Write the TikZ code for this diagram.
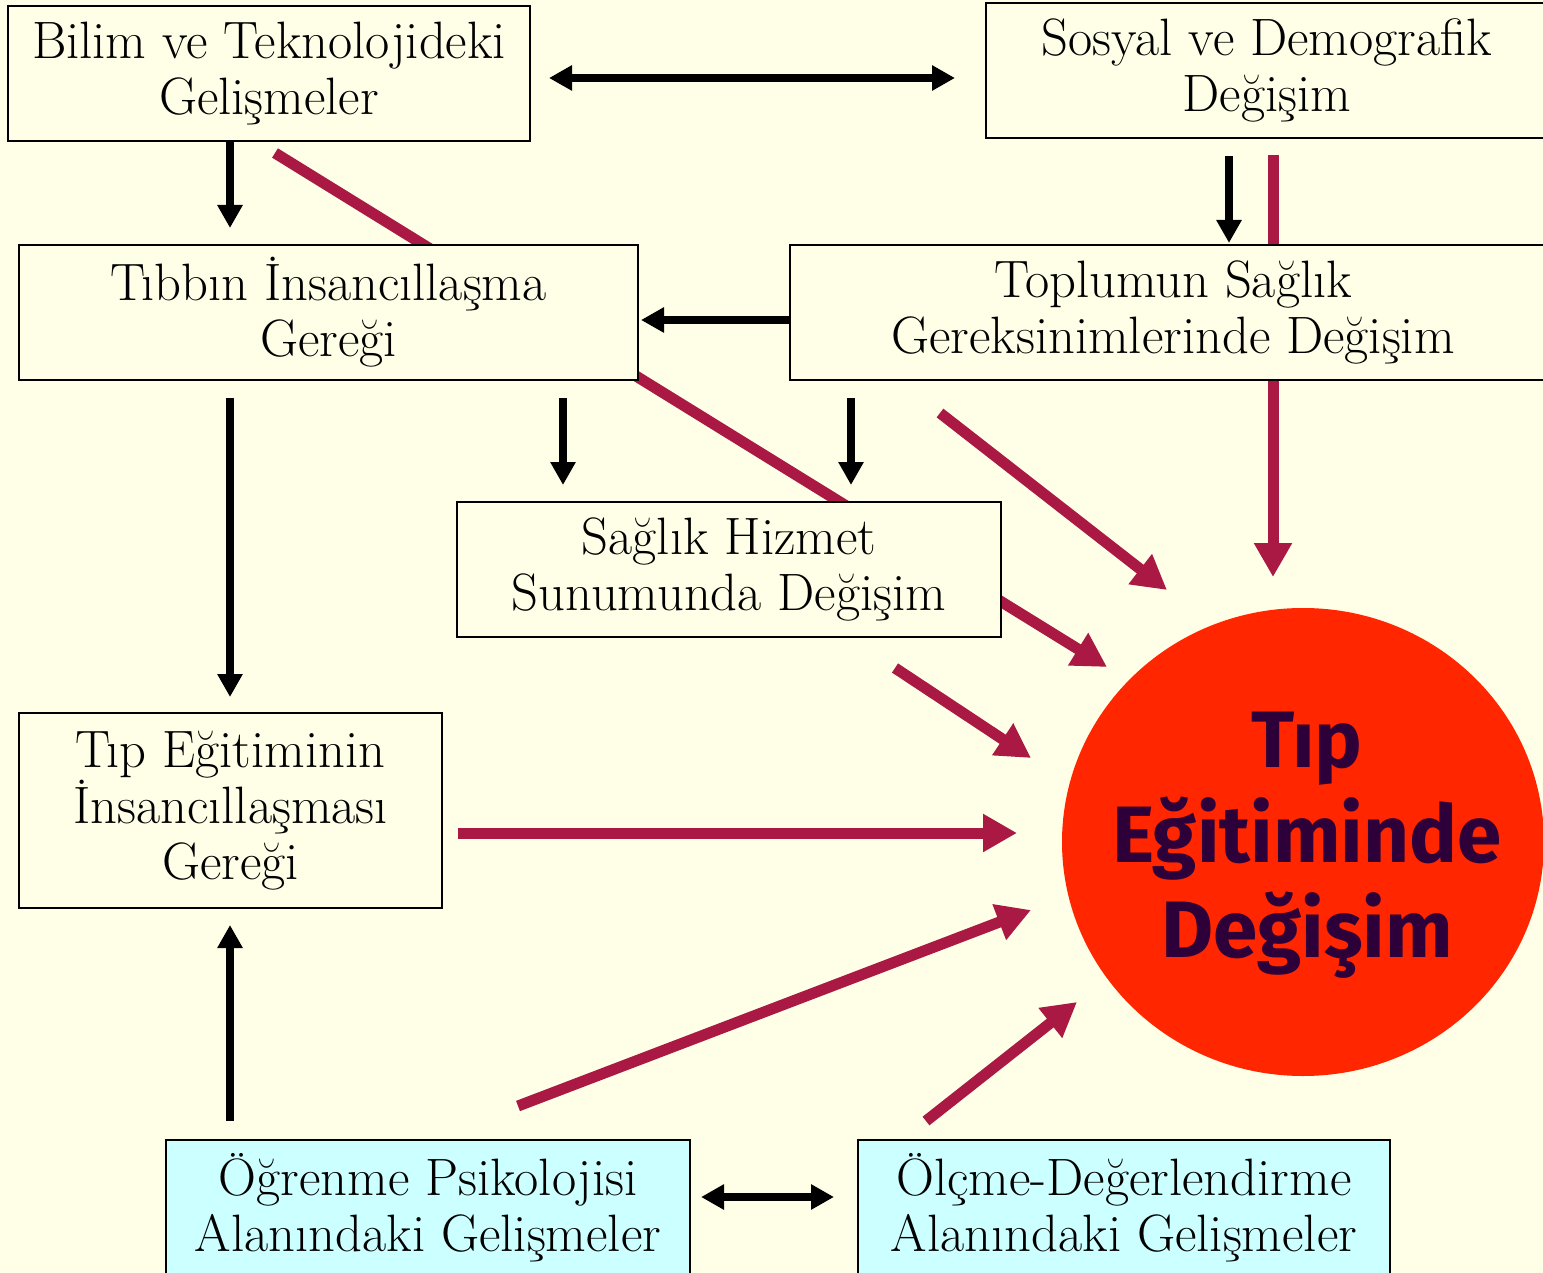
\documentclass[tikz,border=0pt]{standalone}
\usepackage{fontspec}
\newfontfamily\circfont{Fira Sans}
\usetikzlibrary{arrows.meta,calc,shapes.geometric}
\begin{document}
\begin{tikzpicture}[x=0.5pt,y=-0.5pt,
    box/.style={draw=black,line width=1pt,fill=kBack,align=center,inner sep=0pt,
      minimum height=67.5pt,font=\fontsize{26.3}{28}\selectfont},
    cyanbox/.style={box,fill=kCyan},
    blk/.style={line width=4pt,-{Triangle[length=11.5pt,width=12pt]}},
    blkboth/.style={line width=4pt,{Triangle[length=11.5pt,width=12pt]}-{Triangle[length=11.5pt,width=12pt]}},
    crim/.style={draw=kCrimson,line width=5.5pt,-{Triangle[length=17pt,width=18pt]},color=kCrimson},
    circtext/.style={align=center,font=\circfont\bfseries\fontsize{40}{47.5}\selectfont}]
  \definecolor{kBack}{RGB}{255,255,232}
  \definecolor{kCyan}{RGB}{204,255,255}
  \definecolor{kCrimson}{RGB}{169,25,68}
  \definecolor{kRed}{RGB}{255,38,0}
  \definecolor{kPurple}{RGB}{46,0,57}

  \fill[kBack] (0,0) rectangle (1543,1273);
  \useasboundingbox (0,0) rectangle (1543,1273);

  % lines running behind the boxes
  \coordinate (bilimstart) at (275,153);
  \coordinate (longtip) at (1107,667);
  \draw[crim] (bilimstart) -- (longtip);
  \coordinate (sosyalstart) at (1273,155);
  \coordinate (verttip) at (1273,577);
  \draw[crim] (sosyalstart) -- (verttip);

  \node[box,minimum width=261pt] (bilim) at (269,73.5) {Bilim ve Teknolojideki\\Gelişmeler};
  \node[box,minimum width=281pt] (sosyal) at (1267,70.5) {Sosyal ve Demografik\\Değişim};
  \node[box,minimum width=309.5pt] (tibbin) at (328.5,312.5) {Tıbbın İnsancıllaşma\\Gereği};
  \node[box,minimum width=383pt] (toplum) at (1173,312.5) {Toplumun Sağlık\\Gereksinimlerinde Değişim};
  \node[box,minimum width=272pt] (saglik) at (729,569.5) {Sağlık Hizmet\\Sunumunda Değişim};
  \node[box,minimum width=211.5pt,minimum height=97.5pt] (tipegit) at (230.5,810.5) {Tıp Eğitiminin\\İnsancıllaşması\\Gereği};
  \node[cyanbox,minimum width=262pt] (ogrenme) at (428,1207.5) {Öğrenme Psikolojisi\\Alanındaki Gelişmeler};
  \node[cyanbox,minimum width=266pt] (olcme) at (1124,1207.5) {Ölçme-Değerlendirme\\Alanındaki Gelişmeler};

  \node[ellipse,fill=kRed,minimum width=241pt,minimum height=234pt,inner sep=0pt] (degisim) at (1303,842) {};
  \node[circtext,text=kPurple] (baslik) at (1307,845) {Tıp\\Eğitiminde\\Değişim};

  \draw[blkboth] ($(bilim.east)+(18,4.5)$) -- ($(sosyal.west)+(-30,7.5)$);
  \draw[blk] ($(bilim.south)+(-39,0)$) -- ($(tibbin.north)+(-98.5,-16)$);
  \draw[blk] ($(sosyal.south)+(-38,17)$) -- ($(toplum.north)+(56,-1)$);
  \draw[blk] ($(toplum.west)+(0,7.5)$) -- ($(tibbin.east)+(2,7.5)$);
  \draw[blk] ($(tibbin.south)+(234.5,17)$) -- ($(saglik.north)+(-166,-16)$);
  \draw[blk] ($(toplum.south)+(-322,17)$) -- ($(saglik.north)+(122,-16)$);
  \draw[blk] ($(tibbin.south)+(-98.5,17)$) -- ($(tipegit.north)+(-0.5,-15)$);
  \draw[blk] ($(ogrenme.north)+(-198,-18)$) -- ($(tipegit.south)+(-0.5,16)$);
  \draw[blkboth] ($(ogrenme.east)+(10,-10.5)$) -- ($(olcme.west)+(-23,-10.5)$);

  \coordinate (toptip) at (1167,590);
  \coordinate (saglikstart) at (895,668);
  \coordinate (saglikstip) at (1031,758);
  \coordinate (miditip) at (1017,833);
  \coordinate (ogrtip) at (1031,910);
  \coordinate (olctip) at (1077,1002);
  \draw[crim] ($(toplum.south)+(-233,32)$) -- (toptip);
  \draw[crim] (saglikstart) -- (saglikstip);
  \draw[crim] ($(tipegit.east)+(15,22.5)$) -- (miditip);
  \draw[crim] ($(ogrenme.north)+(90,-33)$) -- (ogrtip);
  \draw[crim] ($(olcme.north)+(-198,-18)$) -- (olctip);
\end{tikzpicture}
\end{document}
